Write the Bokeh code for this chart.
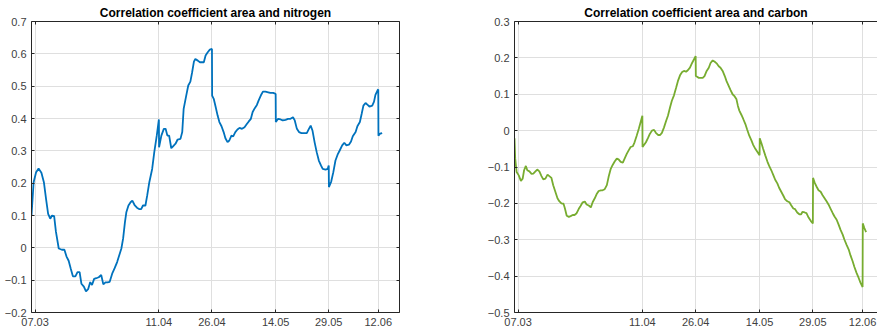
import pandas as pd
from bokeh.plotting import figure
from bokeh.layouts import row
from bokeh.models import Range1d, FixedTicker, LinearAxis
from bokeh.embed import file_html
from bokeh.resources import INLINE

# Sampling dates are stored as days since 07.03
origin = pd.Timestamp("2021-03-07")
tick_dates = ["2021-03-07", "2021-04-11", "2021-04-26", "2021-05-14", "2021-05-29", "2021-06-12"]

nitrogen_days = [
    -1.0, -0.4, 0.3, 1.0, 1.8, 2.5, 3.1, 3.7, 4.3, 4.8,
    5.4, 5.9, 6.7, 7.6, 8.3, 8.9, 9.5, 10.1, 10.7, 11.4,
    12.0, 12.6, 13.1, 13.8, 14.4, 15.0, 15.6, 16.1, 16.7, 17.3,
    18.0, 18.7, 19.3, 19.9, 20.5, 21.1, 21.8, 22.5, 23.2, 23.8,
    24.4, 24.9, 25.4, 25.8, 26.4, 27.0, 27.5, 28.2, 28.8, 29.4,
    30.0, 30.5, 31.2, 31.7, 32.3, 33.1, 33.7, 34.4, 35.0, 35.05,
    35.7, 36.4, 36.9, 37.4, 37.9, 38.5, 39.0, 39.7, 40.3, 41.1,
    41.6, 42.0, 42.7, 43.3, 43.9, 44.4, 44.9, 45.3, 46.0, 46.6,
    47.2, 47.7, 48.2, 48.8, 49.4, 50.0, 50.05, 50.5, 51.0, 51.6,
    52.1, 52.7, 53.3, 53.8, 54.4, 54.9, 55.5, 56.0, 56.6, 57.2,
    57.8, 58.5, 59.2, 59.8, 60.4, 61.0, 61.5, 62.1, 62.7, 63.2,
    63.8, 64.4, 65.1, 65.9, 66.5, 67.3, 68.0, 68.05, 68.7, 69.4,
    70.0, 70.8, 71.5, 72.2, 72.9, 73.4, 74.0, 74.6, 75.3, 76.1,
    76.8, 77.4, 77.9, 78.4, 79.0, 79.6, 80.2, 80.8, 81.3, 82.1,
    82.7, 83.0, 83.05, 83.7, 84.3, 84.9, 85.5, 86.1, 86.8, 87.4,
    88.0, 88.7, 89.3, 89.8, 90.6, 91.1, 91.8, 92.3, 92.8, 93.4,
    94.0, 94.5, 95.3, 95.8, 96.2, 96.8, 97.0, 97.05, 97.5, 98.1,
]
nitrogen_r = [
    0.100, 0.203, 0.234, 0.245, 0.232, 0.203, 0.152, 0.105, 0.090, 0.100,
    0.098, 0.050, -0.002, -0.006, -0.006, -0.027, -0.040, -0.065, -0.088, -0.088,
    -0.075, -0.075, -0.111, -0.120, -0.135, -0.128, -0.106, -0.115, -0.096, -0.094,
    -0.091, -0.084, -0.113, -0.107, -0.107, -0.105, -0.080, -0.063, -0.044, -0.023,
    -0.002, 0.029, 0.079, 0.110, 0.131, 0.141, 0.146, 0.131, 0.124, 0.120,
    0.120, 0.131, 0.131, 0.162, 0.203, 0.244, 0.296, 0.347, 0.397, 0.311,
    0.347, 0.368, 0.368, 0.347, 0.347, 0.308, 0.314, 0.322, 0.335, 0.337,
    0.358, 0.430, 0.469, 0.502, 0.514, 0.543, 0.576, 0.584, 0.579, 0.574,
    0.574, 0.574, 0.595, 0.605, 0.613, 0.615, 0.471, 0.461, 0.438, 0.409,
    0.389, 0.376, 0.358, 0.339, 0.327, 0.332, 0.347, 0.345, 0.358, 0.366,
    0.371, 0.368, 0.373, 0.382, 0.391, 0.399, 0.420, 0.432, 0.442, 0.456,
    0.471, 0.483, 0.483, 0.481, 0.479, 0.479, 0.476, 0.389, 0.399, 0.397,
    0.394, 0.396, 0.399, 0.399, 0.404, 0.394, 0.368, 0.358, 0.355, 0.355,
    0.355, 0.368, 0.378, 0.363, 0.327, 0.296, 0.270, 0.255, 0.244, 0.242,
    0.244, 0.255, 0.188, 0.205, 0.234, 0.270, 0.288, 0.301, 0.317, 0.325,
    0.317, 0.319, 0.329, 0.345, 0.358, 0.376, 0.389, 0.414, 0.440, 0.448,
    0.442, 0.437, 0.440, 0.452, 0.473, 0.487, 0.490, 0.347, 0.353, 0.355,
]

carbon_days = [
    -1.0, -0.8, -0.4, 0.2, 0.8, 1.3, 1.7, 2.2, 2.6, 3.2,
    3.8, 4.3, 4.9, 5.4, 6.0, 6.6, 7.1, 7.7, 8.3, 8.8,
    9.4, 9.9, 10.5, 11.1, 11.6, 12.2, 12.8, 13.2, 13.7, 14.3,
    14.8, 15.4, 15.9, 16.5, 17.1, 17.6, 18.2, 18.8, 19.3, 19.9,
    20.5, 21.0, 21.6, 22.1, 22.7, 23.3, 23.8, 24.4, 25.0, 25.5,
    26.1, 26.6, 27.2, 27.8, 28.3, 28.9, 29.5, 30.0, 30.6, 31.1,
    31.7, 32.3, 32.8, 33.4, 34.0, 34.5, 35.0, 35.05, 35.5, 36.0,
    36.6, 37.1, 37.7, 38.3, 38.8, 39.4, 40.0, 40.5, 41.1, 41.7,
    42.2, 42.8, 43.3, 43.9, 44.5, 45.0, 45.6, 46.2, 46.7, 47.3,
    47.8, 48.4, 49.0, 50.0, 50.05, 50.4, 50.9, 51.4, 52.0, 52.5,
    53.1, 53.7, 54.2, 54.8, 55.3, 55.9, 56.5, 57.0, 57.6, 58.2,
    58.7, 59.3, 59.8, 60.4, 61.0, 61.5, 61.9, 62.3, 62.9, 63.4,
    64.0, 64.5, 65.1, 65.7, 66.2, 66.8, 67.4, 68.0, 68.05, 68.5,
    69.0, 69.6, 70.2, 70.7, 71.3, 71.9, 72.4, 73.0, 73.5, 74.1,
    74.7, 75.2, 75.8, 76.4, 76.9, 77.5, 78.0, 78.6, 79.2, 79.7,
    80.1, 80.7, 81.2, 81.8, 82.4, 83.0, 83.05, 83.5, 84.1, 84.6,
    85.2, 85.7, 86.3, 86.9, 87.4, 88.0, 88.6, 89.1, 89.7, 90.2,
    90.8, 91.4, 91.9, 92.5, 93.1, 93.6, 94.2, 94.7, 95.3, 95.9,
    96.4, 97.0, 97.05, 97.5, 98.0,
]
carbon_r = [
    -0.021, -0.077, -0.114, -0.123, -0.138, -0.132, -0.109, -0.097, -0.109, -0.112,
    -0.119, -0.118, -0.112, -0.107, -0.112, -0.125, -0.134, -0.132, -0.121, -0.125,
    -0.130, -0.150, -0.168, -0.186, -0.194, -0.200, -0.201, -0.214, -0.234, -0.237,
    -0.235, -0.232, -0.232, -0.227, -0.215, -0.207, -0.197, -0.195, -0.203, -0.206,
    -0.211, -0.197, -0.186, -0.175, -0.166, -0.164, -0.164, -0.161, -0.150, -0.127,
    -0.105, -0.095, -0.085, -0.077, -0.079, -0.086, -0.088, -0.077, -0.064, -0.055,
    -0.045, -0.043, -0.032, -0.014, 0.005, 0.023, 0.041, -0.045, -0.039, -0.032,
    -0.020, -0.009, 0.000, 0.002, -0.006, -0.012, -0.012, -0.006, 0.009, 0.027,
    0.041, 0.064, 0.082, 0.097, 0.118, 0.136, 0.152, 0.161, 0.164, 0.162,
    0.166, 0.173, 0.186, 0.205, 0.150, 0.148, 0.145, 0.145, 0.145, 0.150,
    0.164, 0.173, 0.186, 0.193, 0.190, 0.185, 0.177, 0.173, 0.164, 0.150,
    0.136, 0.123, 0.112, 0.100, 0.094, 0.086, 0.068, 0.055, 0.043, 0.032,
    0.018, 0.003, -0.014, -0.027, -0.039, -0.050, -0.059, -0.068, -0.021, -0.034,
    -0.050, -0.068, -0.085, -0.097, -0.109, -0.123, -0.135, -0.145, -0.157, -0.168,
    -0.179, -0.189, -0.194, -0.197, -0.205, -0.214, -0.216, -0.225, -0.230, -0.230,
    -0.223, -0.225, -0.227, -0.239, -0.248, -0.255, -0.130, -0.143, -0.155, -0.164,
    -0.168, -0.177, -0.186, -0.195, -0.203, -0.215, -0.227, -0.236, -0.245, -0.257,
    -0.273, -0.286, -0.300, -0.314, -0.327, -0.343, -0.359, -0.375, -0.391, -0.405,
    -0.418, -0.430, -0.255, -0.268, -0.279,
]

nitrogen_yticks = [-0.2, -0.1, 0, 0.1, 0.2, 0.3, 0.4, 0.5, 0.6, 0.7]
carbon_yticks = [-0.5, -0.4, -0.3, -0.2, -0.1, 0, 0.1, 0.2, 0.3]

FONT = "Liberation Sans"
AXIS_COLOR = "#262626"
LABEL_COLOR = "#404040"
GRID_COLOR = "#dfdfdf"

tick_ts = pd.to_datetime(tick_dates)
x_ticks = [int((t - origin).days) for t in tick_ts]
x_labels = {d: t.strftime("%d.%m") for d, t in zip(x_ticks, tick_ts)}


def style_axis(ax, show_labels=True):
    ax.axis_line_color = AXIS_COLOR
    ax.major_tick_line_color = AXIS_COLOR
    ax.major_tick_in = 3
    ax.major_tick_out = 0
    ax.minor_tick_line_color = None
    ax.major_label_text_font = FONT
    if show_labels:
        ax.major_label_text_font_size = "11px"
        ax.major_label_text_color = LABEL_COLOR
        ax.major_label_standoff = 5
    else:
        # box side: inward ticks only, no labels painted
        ax.major_label_text_font_size = "1px"
        ax.major_label_text_color = None
        ax.major_label_standoff = 0


def panel(title, days, values, color, yticks, x_end, width, border_left, border_right, right_box):
    p = figure(
        width=width, height=335,
        x_range=Range1d(-1, x_end), y_range=Range1d(yticks[0], yticks[-1]),
        output_backend="svg", toolbar_location=None,
        min_border_left=border_left, min_border_right=border_right,
        min_border_top=21, min_border_bottom=23,
        background_fill_color="white", border_fill_color="white",
    )
    p.outline_line_color = None
    xt = FixedTicker(ticks=x_ticks)
    yt = FixedTicker(ticks=yticks)

    p.xaxis.ticker = xt
    p.xaxis.major_label_overrides = x_labels
    p.yaxis.ticker = yt
    p.yaxis.major_label_overrides = {0: "0"}
    style_axis(p.xaxis[0])
    style_axis(p.yaxis[0])

    top = LinearAxis(ticker=FixedTicker(ticks=x_ticks))
    style_axis(top, show_labels=False)
    p.add_layout(top, "above")
    if right_box:
        rgt = LinearAxis(ticker=FixedTicker(ticks=yticks))
        style_axis(rgt, show_labels=False)
        p.add_layout(rgt, "right")

    p.xgrid.ticker = xt
    p.ygrid.ticker = yt
    for g in (p.xgrid[0], p.ygrid[0]):
        g.grid_line_color = GRID_COLOR
        g.grid_line_width = 1

    p.title.text = title
    p.title.align = "center"
    p.title.text_font = FONT
    p.title.text_font_style = "bold"
    p.title.text_font_size = "12px"
    p.title.text_color = "black"
    p.title.standoff = 3

    p.line(days, values, line_color=color, line_width=1.8)
    return p


left = panel("Correlation coefficient area and nitrogen", nitrogen_days, nitrogen_r,
             "#0072BD", nitrogen_yticks, 103, 437, 31, 38, True)
right = panel("Correlation coefficient area and carbon", carbon_days, carbon_r,
              "#77AC30", carbon_yticks, 101.2, 440, 77, 0, False)

layout = row(left, right)
open("out.html", "w").write(file_html(layout, INLINE))
